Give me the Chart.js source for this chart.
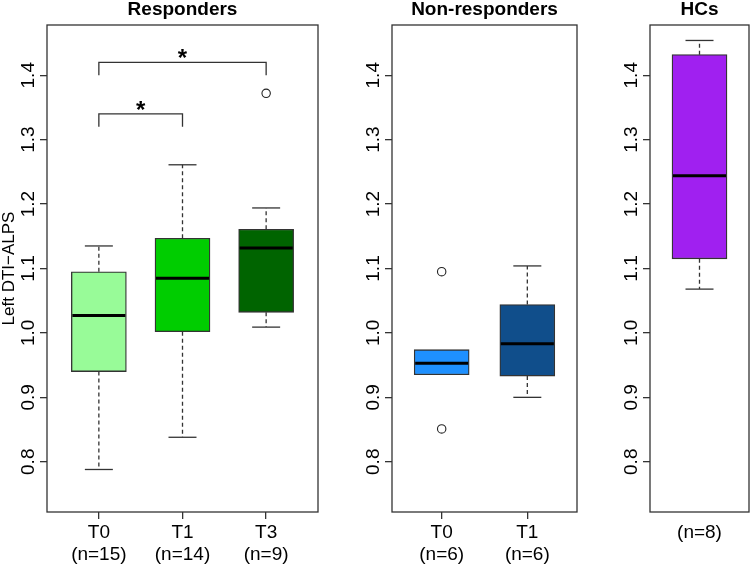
<!DOCTYPE html>
<html><head><meta charset="utf-8">
<script src="https://cdn.jsdelivr.net/npm/chart.js@4.4.0/dist/chart.umd.min.js"></script>
<style>
html,body{margin:0;padding:0;background:#fff;width:751px;height:566px;overflow:hidden}
canvas{position:absolute;top:0}
</style></head><body>
<canvas id="c1" width="330" height="566" style="left:0px"></canvas>
<canvas id="c2" width="260" height="566" style="left:330px"></canvas>
<canvas id="c3" width="161" height="566" style="left:590px"></canvas>
<script>
// ---------- data ----------
const yLabelText = 'Left DTI\u2212ALPS';
const yLimits = [0.75, 1.45];
const yTickValues = [0.8, 0.9, 1.0, 1.1, 1.2, 1.3, 1.4];
const yTickLabels = ['0.8', '0.9', '1.0', '1.1', '1.2', '1.3', '1.4'];

const respTitle = 'Responders';
const respCategories = [['T0', '(n=15)'], ['T1', '(n=14)'], ['T3', '(n=9)']];
const respLow = [0.788, 0.838, 1.009];
const respQ1 = [0.940, 1.002, 1.032];
const respMedian = [1.027, 1.085, 1.132];
const respQ3 = [1.095, 1.147, 1.161];
const respHigh = [1.135, 1.261, 1.194];
const respOutliers = [[], [], [1.372]];
const respColors = ['#98FB98', '#00CD00', '#006400'];
const respBrackets = [
  { from: 1, to: 2, top: 1.34, foot: 1.32, label: '*' },
  { from: 1, to: 3, top: 1.42, foot: 1.40, label: '*' }
];

const nonTitle = 'Non-responders';
const nonCategories = [['T0', '(n=6)'], ['T1', '(n=6)']];
const nonLow = [0.935, 0.900];
const nonQ1 = [0.935, 0.933];
const nonMedian = [0.953, 0.983];
const nonQ3 = [0.974, 1.044];
const nonHigh = [0.974, 1.104];
const nonOutliers = [[1.095, 0.851], []];
const nonColors = ['#1E90FF', '#104E8B'];

const hcTitle = 'HCs';
const hcCategories = [['(n=8)']];
const hcLow = [1.068];
const hcQ1 = [1.115];
const hcMedian = [1.244];
const hcQ3 = [1.432];
const hcHigh = [1.454];
const hcOutliers = [[]];
const hcColors = ['#A020F0'];

// ---------- drawing ----------
const FONT = "'Liberation Sans', Arial, sans-serif";
const LINE = '#333333';
const BOX_W = 55;
const CAP_W = 28;
const ext = (yLimits[1] - yLimits[0]) * 0.04;

function boxPlugin(p) {
  return {
    id: 'boxExtras',
    afterDatasetsDraw(chart) {
      const ctx = chart.ctx, xs = chart.scales.x, ys = chart.scales.y;
      ctx.save();
      p.median.forEach((m, i) => {
        const x = xs.getPixelForValue(i + 1);
        const yq1 = ys.getPixelForValue(p.q1[i]), yq3 = ys.getPixelForValue(p.q3[i]);
        const ylo = ys.getPixelForValue(p.low[i]), yhi = ys.getPixelForValue(p.high[i]);
        ctx.strokeStyle = LINE; ctx.lineWidth = 1.3;
        // whiskers
        [[yq3, yhi, p.high[i] > p.q3[i]], [yq1, ylo, p.low[i] < p.q1[i]]].forEach(([a, b, show]) => {
          if (!show) return;
          ctx.setLineDash([4, 3]);
          ctx.beginPath(); ctx.moveTo(x, a); ctx.lineTo(x, b); ctx.stroke();
          ctx.setLineDash([]);
          ctx.beginPath(); ctx.moveTo(x - CAP_W / 2, b); ctx.lineTo(x + CAP_W / 2, b); ctx.stroke();
        });
        // median
        const ym = ys.getPixelForValue(m);
        ctx.strokeStyle = '#000'; ctx.lineWidth = 3;
        ctx.beginPath(); ctx.moveTo(x - BOX_W / 2 + 1, ym); ctx.lineTo(x + BOX_W / 2 - 1, ym); ctx.stroke();
      });
      // significance brackets
      (p.brackets || []).forEach(b => {
        const x1 = xs.getPixelForValue(b.from), x2 = xs.getPixelForValue(b.to);
        const yt = ys.getPixelForValue(b.top), yf = ys.getPixelForValue(b.foot);
        ctx.strokeStyle = LINE; ctx.lineWidth = 1.3;
        ctx.beginPath(); ctx.moveTo(x1, yf); ctx.lineTo(x1, yt); ctx.lineTo(x2, yt); ctx.lineTo(x2, yf); ctx.stroke();
        ctx.fillStyle = '#000'; ctx.font = 'bold 24px ' + FONT;
        ctx.textAlign = 'center'; ctx.textBaseline = 'middle';
        ctx.fillText(b.label, (x1 + x2) / 2, yt - 3);
      });
      ctx.restore();
    },
    afterDraw(chart) {
      const a = chart.chartArea, ctx = chart.ctx;
      ctx.save(); ctx.strokeStyle = LINE; ctx.lineWidth = 1.3;
      ctx.strokeRect(a.left, a.top, a.right - a.left, a.bottom - a.top);
      // panel title, centred over the plotting region
      ctx.fillStyle = '#000'; ctx.font = 'bold 19px ' + FONT;
      ctx.textAlign = 'center'; ctx.textBaseline = 'middle';
      ctx.fillText(p.title, (a.left + a.right) / 2, a.top - 15);
      ctx.restore();
    }
  };
}

function makePanel(id, p) {
  const n = p.categories.length;
  const outPts = [];
  p.outliers.forEach((arr, i) => arr.forEach(v => outPts.push({ x: i + 1, y: v })));
  return new Chart(document.getElementById(id), {
    data: {
      datasets: [
        {
          type: 'bar',
          data: p.q1.map((q, i) => ({ x: i + 1, y: [q, p.q3[i]] })),
          backgroundColor: p.colors,
          borderColor: LINE, borderWidth: 1.3, borderSkipped: false,
          barThickness: BOX_W
        },
        {
          type: 'scatter',
          data: outPts,
          pointStyle: 'circle', pointRadius: 4.2,
          pointBackgroundColor: '#fff', pointBorderColor: '#222', pointBorderWidth: 1.1
        }
      ]
    },
    options: {
      responsive: false, animation: false,
      layout: { padding: { top: 25, left: 0, right: p.padRight, bottom: 0 } },
      plugins: {
        legend: { display: false }, tooltip: { enabled: false }, title: { display: false }
      },
      scales: {
        x: {
          type: 'linear', offset: false,
          min: 0.5 - 0.04 * n, max: n + 0.5 + 0.04 * n,
          afterBuildTicks: s => { s.ticks = p.categories.map((c, i) => ({ value: i + 1 })); },
          afterFit: s => { s.height = 54; },
          ticks: {
            callback: (v, i) => p.categories[i],
            autoSkip: false, maxRotation: 0, minRotation: 0, padding: 2,
            color: '#000', font: { size: 19, family: FONT, lineHeight: 1.2 }
          },
          grid: { offset: false, drawOnChartArea: false, tickLength: 7, color: p.xTickColor, lineWidth: 1.3 },
          border: { display: false }
        },
        y: {
          type: 'linear',
          min: yLimits[0] - ext, max: yLimits[1] + ext,
          afterBuildTicks: s => { s.ticks = yTickValues.map(v => ({ value: v })); },
          afterFit: s => { s.width = p.yAxisWidth; },
          ticks: {
            callback: (v, i) => yTickLabels[i],
            autoSkip: false, minRotation: 90, maxRotation: 90, crossAlign: 'center', padding: -2,
            color: '#000', font: { size: 19, family: FONT }
          },
          grid: { drawOnChartArea: false, tickLength: 7, color: LINE, lineWidth: 1.3 },
          border: { display: false },
          title: {
            display: !!p.yTitle, text: p.yTitle || '', color: '#000',
            font: { size: 17, family: FONT, lineHeight: 1.1 }, padding: 0
          }
        }
      }
    },
    plugins: [boxPlugin(p)]
  });
}

makePanel('c1', {
  title: respTitle, categories: respCategories, low: respLow, q1: respQ1, median: respMedian,
  q3: respQ3, high: respHigh, outliers: respOutliers, colors: respColors, brackets: respBrackets,
  yTitle: yLabelText, yAxisWidth: 47, padRight: 12, xTickColor: LINE
});
makePanel('c2', {
  title: nonTitle, categories: nonCategories, low: nonLow, q1: nonQ1, median: nonMedian,
  q3: nonQ3, high: nonHigh, outliers: nonOutliers, colors: nonColors,
  yAxisWidth: 62, padRight: 13, xTickColor: LINE
});
makePanel('c3', {
  title: hcTitle, categories: hcCategories, low: hcLow, q1: hcQ1, median: hcMedian,
  q3: hcQ3, high: hcHigh, outliers: hcOutliers, colors: hcColors,
  yAxisWidth: 60, padRight: 2, xTickColor: 'rgba(0,0,0,0)'
});
</script>
</body></html>
